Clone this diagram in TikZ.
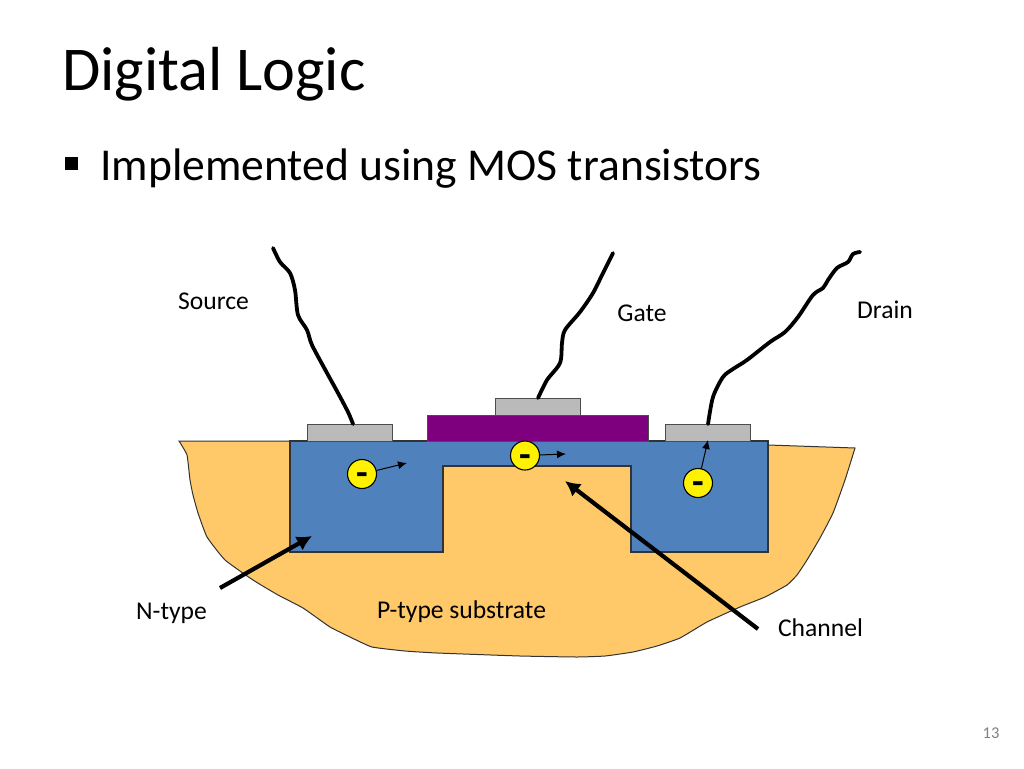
\documentclass[tikz,border=0pt]{standalone}
\usepackage{fontspec}
\setmainfont{Carlito}
\usepackage{tikz}
\usetikzlibrary{
    arrows.meta,
    positioning
}
\definecolor{substrate}{HTML}{FFC969}
\definecolor{ntype}{HTML}{4F81BD}
\definecolor{gatecolor}{HTML}{7F007F}
\definecolor{padcolor}{HTML}{BABABA}

\begin{document}
\begin{tikzpicture} [x=1pt,y=-1pt,inner sep=0pt,
    pad/.style={rectangle,draw=black!70,fill=padcolor,line width=1.1pt,
                  minimum height=17pt,anchor=north west},
    electron/.style={circle,draw=black,fill=yellow,line width=1.1pt,text height=23pt,text depth=0pt,
                  minimum size=29pt,font=\fontsize{38}{38}\selectfont\bfseries},
    label/.style={anchor=center,font=\fontsize{25.6}{30}\selectfont},
    wire/.style={line width=3.8pt,line cap=round,line join=round},
    drift/.style={line width=1pt,black,-{Latex[length=9pt,width=8pt]}},
    pointer/.style={line width=4.2pt,black,-{Latex[length=15pt,width=16pt]}}
]
    \useasboundingbox (0,0) rectangle (1024,768);

    % text
    \node[anchor=base west,font=\fontsize{62.3}{70}\selectfont] (title) at (62,90) {Digital Logic};
    \node[rectangle,fill=black,minimum size=13pt] (bullet) at (71.5,163.5) {};
    \node[anchor=base west,font=\fontsize{45.6}{54}\selectfont] (subtitle) at (100,180.5) {Implemented using MOS transistors};

    % silicon
    \draw[black!80,line width=1pt,fill=substrate] (179,441) -- (290,441) -- (768,445) -- (855,448)
        -- plot[smooth,tension=0.25] coordinates {(855,448) (845,480) (833,513) (820,538) (807,560) (797,575)
        (787,585) (765,597) (740,607) (707,622) (680,638) (657,646) (633,652) (605,656) (577,657) (520,656)
        (437,653) (405,651) (372,647) (350,637) (330,627) (303,608) (278,595) (253,580) (225,560) (207,537) (198,513)
        (193,495) (190,480) (187,455) (179,441)} -- cycle;
    \draw[black!80,fill=ntype,line width=1.1pt] (290,441) -- (768,441) -- (768,552) -- (631,552) -- (631,466)
        -- (443,466) -- (443,552) -- (290,552) -- cycle;

    \node[pad,minimum width=85pt] (source pad) at (307,424) {};
    \node[pad,minimum width=221pt,fill=gatecolor,minimum height=26pt] (gate oxide) at (426.5,415) {};
    \node[pad,minimum width=85pt] (gate pad) at (495,398) {};
    \node[pad,minimum width=85pt] (drain pad) at (665,424) {};

    % wires
    \coordinate (source end) at (273,248);
    \coordinate (gate end) at (613,253);
    \coordinate (drain end) at (860,252);
    \draw[wire] plot[smooth,tension=0.5] coordinates {(source end) (280,262) (290,273) (295,290) (298,315)
        (307,330) (312,345) (327,373) (338,393) (348,412) ([xshift=3pt]source pad.north)};
    \draw[wire] plot[smooth,tension=0.5] coordinates {(gate end) (603,273) (593,293) (580,312) (565,330)
        (562,343) (560,363) (547,380) (gate pad.north)};
    \draw[wire] plot[smooth,tension=0.5] coordinates {(drain end) (853,254) (848,262) (837,268) (828,280)
        (823,288) (813,295) (798,317) (785,332) (770,342) (747,360) (733,369) (723,377) (713,397) (drain pad.north)};

    % electrons
    \node[electron] (electron 1) at (362,474) {-};
    \node[electron] (electron 2) at (525,455.5) {-};
    \node[electron] (electron 3) at (698,483) {-};
    \coordinate (drift 1) at (407,463);
    \coordinate (drift 2) at (566,454);
    \coordinate (drift 3) at (708,440);
    \draw[drift] (electron 1) -- (drift 1);
    \draw[drift] (electron 2) -- (drift 2);
    \draw[drift] (electron 3) -- (drift 3);

    % labels
    \node[label] (source) at (213.5,301.5) {Source};
    \node[label] (gate) at (642,313) {Gate};
    \node[label] (drain) at (885,310) {Drain};
    \node[label] (n type) at (171.5,613) {N-type};
    \node[label] (p type) at (461.5,612) {P-type substrate};
    \node[label] (channel) at (820.5,628) {Channel};
    \node[anchor=center,text=black!50,font=\fontsize{16.5}{18}\selectfont] (page number) at (991,733) {13};

    \coordinate (n type tail) at (220,588);
    \coordinate (n type tip) at (312,536);
    \coordinate (channel tail) at (758,629);
    \coordinate (channel tip) at (565,481);
    \draw[pointer] (n type tail) -- (n type tip);
    \draw[pointer] (channel tail) -- (channel tip);
\end{tikzpicture}
\end{document}
